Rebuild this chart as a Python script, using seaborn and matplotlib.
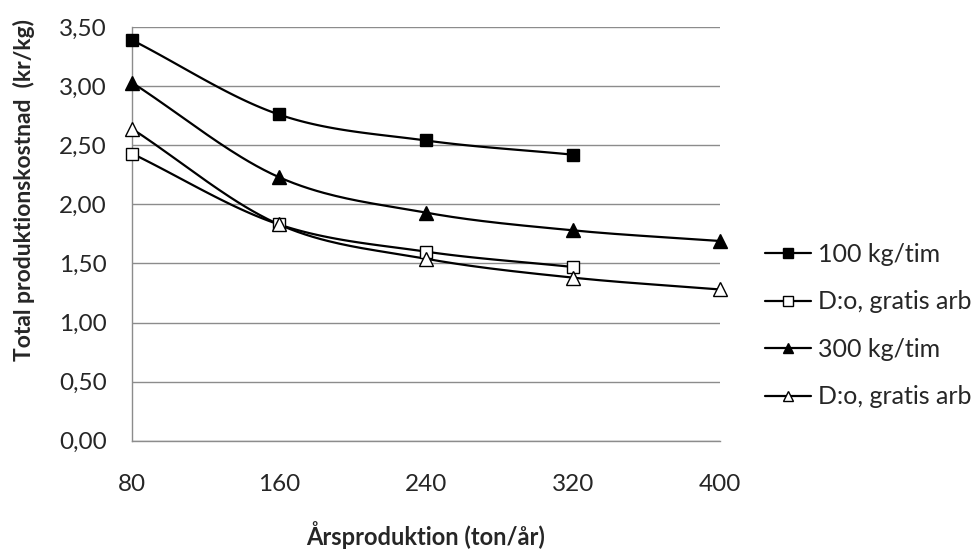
import numpy as np
import pandas as pd
import matplotlib
matplotlib.use("Agg")
import matplotlib.pyplot as plt
from matplotlib.lines import Line2D
import seaborn as sns

# Annual production (ton/year)
production = [80, 160, 240, 320, 400]

# Total production cost (kr/kg) per machine capacity
cost_100 = [3.39, 2.76, 2.54, 2.42]
cost_100_free = [2.43, 1.83, 1.60, 1.47]
cost_300 = [3.03, 2.23, 1.93, 1.78, 1.69]
cost_300_free = [2.64, 1.83, 1.54, 1.38, 1.28]

series_names = ["100 kg/tim", "D:o, gratis arb", "300 kg/tim", "D:o, gratis arb"]
series_values = [cost_100, cost_100_free, cost_300, cost_300_free]
y_ticks = [0.0, 0.5, 1.0, 1.5, 2.0, 2.5, 3.0, 3.5]

sns.set_style("white")
plt.rcParams["font.family"] = ["Lato", "DejaVu Sans"]


def smooth(x, y, n=40):
    """Catmull-Rom style smoothing through the given points."""
    x = np.asarray(x, float)
    y = np.asarray(y, float)
    px = np.concatenate([[2 * x[0] - x[1]], x, [2 * x[-1] - x[-2]]])
    py = np.concatenate([[2 * y[0] - y[1]], y, [2 * y[-1] - y[-2]]])
    xs, ys = [], []
    t = np.linspace(0, 1, n)
    for i in range(1, len(px) - 2):
        for p, out in ((px, xs), (py, ys)):
            p0, p1, p2, p3 = p[i - 1], p[i], p[i + 1], p[i + 2]
            seg = 0.5 * ((2 * p1) + (-p0 + p2) * t
                         + (2 * p0 - 5 * p1 + 4 * p2 - p3) * t ** 2
                         + (-p0 + 3 * p1 - 3 * p2 + p3) * t ** 3)
            out.append(seg if i == 1 else seg[1:])
    return np.concatenate(xs), np.concatenate(ys)


fig = plt.figure(figsize=(9.77, 5.51), dpi=100)
ax = fig.add_axes([0.135, 0.20, 0.602, 0.751])

styles = [
    dict(marker="s", mfc="black", ms=9),
    dict(marker="s", mfc="white", ms=9),
    dict(marker="^", mfc="black", ms=10),
    dict(marker="^", mfc="white", ms=10),
]

for name, vals, st in zip(series_names, series_values, styles):
    xv = production[:len(vals)]
    sx, sy = smooth(xv, vals)
    curve = pd.DataFrame({"x": sx, "y": sy})
    sns.lineplot(data=curve, x="x", y="y", ax=ax, color="black", lw=1.6,
                 sort=False, estimator=None, zorder=3)
    pts = pd.DataFrame({"x": xv, "y": vals})
    ax.plot(pts["x"], pts["y"], ls="none", marker=st["marker"],
            mfc=st["mfc"], mec="black", ms=st["ms"], mew=1.0, zorder=4,
            clip_on=False)

ax.set_xlim(80, 400)
ax.set_ylim(0, 3.5)
ax.set_xticks(production)
ax.set_xticklabels([str(v) for v in production])
ax.set_yticks(y_ticks)
ax.set_yticklabels([f"{v:.2f}".replace(".", ",") for v in y_ticks])
ax.grid(axis="y", color="#8c8c8c", lw=1.0)
ax.grid(axis="x", visible=False)
for side in ("top", "right"):
    ax.spines[side].set_visible(False)
for side in ("left", "bottom"):
    ax.spines[side].set_color("#8c8c8c")
    ax.spines[side].set_linewidth(1.0)
ax.tick_params(axis="x", direction="inout", length=10, width=1,
               color="#8c8c8c", labelsize=17.5, pad=19)
ax.tick_params(axis="y", direction="out", length=5, width=1,
               color="#8c8c8c", labelsize=17.5, pad=13)
ax.set_xlabel("")
ax.set_ylabel("")

fig.text(426 / 977, 6 / 551, "Årsproduktion (ton/år)", fontsize=17,
         fontweight="bold", ha="center", va="baseline")
fig.text(24 / 977, 1 - 190 / 551, "Total produktionskostnad  (kr/kg)",
         fontsize=16.5, fontweight="bold", ha="center", va="center",
         rotation=90)

handles = [Line2D([0], [0], color="black", lw=1.6, marker=st["marker"],
                  mfc=st["mfc"], mec="black", ms=st["ms"] - 2.5, mew=1.0)
           for st in styles]
leg = fig.legend(handles, series_names,
                 loc="upper left", bbox_to_anchor=(0.765, 0.591),
                 frameon=False, fontsize=18, handlelength=1.85,
                 handletextpad=0.28, labelspacing=0.98, borderpad=0.2)

fig.savefig("out.png", dpi=100)
